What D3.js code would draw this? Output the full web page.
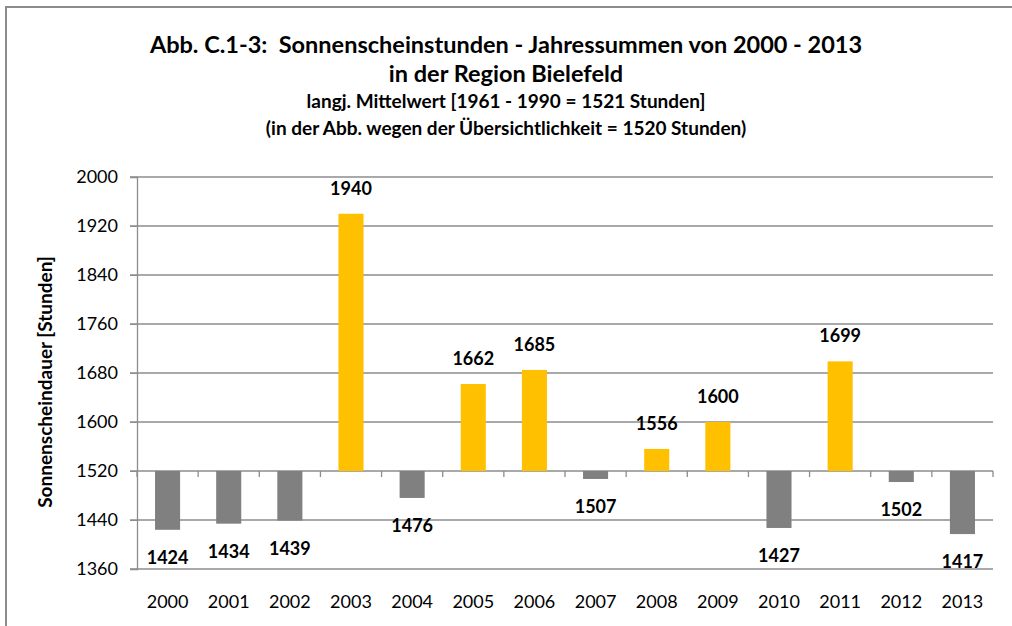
<!DOCTYPE html>
<html>
<head>
<meta charset="utf-8">
<script src="https://cdn.jsdelivr.net/npm/d3@7"></script>
<style>
  body { margin: 0; background: #fff; }
  svg { display: block; font-family: Lato, "Open Sans", sans-serif; }
  text { white-space: pre; }
</style>
</head>
<body>
<svg id="chart" width="1012" height="626"></svg>
<script>
const years = ["2000","2001","2002","2003","2004","2005","2006","2007","2008","2009","2010","2011","2012","2013"];
const hours = [1424, 1434, 1439, 1940, 1476, 1662, 1685, 1507, 1556, 1600, 1427, 1699, 1502, 1417];
const yTicks = [1360, 1440, 1520, 1600, 1680, 1760, 1840, 1920, 2000];
const baseline = 1520;

const titleLines = [
  "Abb. C.1-3:  Sonnenscheinstunden - Jahressummen von 2000 - 2013",
  "in der Region Bielefeld"
];
const subLines = [
  "langj. Mittelwert [1961 - 1990 = 1521 Stunden]",
  "(in der Abb. wegen der Übersichtlichkeit = 1520 Stunden)"
];

const data = years.map((y, i) => ({ year: y, value: hours[i] }));

const svg = d3.select("#chart");
const margin = { top: 177, left: 137, right: 19, bottom: 57 };
const width = +svg.attr("width");
const height = +svg.attr("height");
const innerWidth = width - margin.left - margin.right;
const innerHeight = height - margin.top - margin.bottom;

// outer frame (only top and left edges are visible in the picture)
svg.append("path")
  .attr("d", `M6,${height} V7 H${width}`)
  .attr("fill", "none")
  .attr("stroke", "#8c8c8c")
  .attr("stroke-width", 2);

const x = d3.scaleBand()
  .domain(years)
  .range([0, innerWidth])
  .paddingInner(0.59)
  .paddingOuter(0.295);

const y = d3.scaleLinear()
  .domain([1360, 2000])
  .range([innerHeight, 0]);

const chart = svg.append("g")
  .attr("transform", `translate(${margin.left},${margin.top})`);

// gridlines
chart.append("g")
  .selectAll("line")
  .data(yTicks)
  .enter()
  .append("line")
  .attr("x1", -7)
  .attr("x2", innerWidth)
  .attr("y1", d => y(d))
  .attr("y2", d => y(d))
  .attr("stroke", "#8c8c8c")
  .attr("stroke-width", 1.3);

// y axis
const yAxis = chart.append("g")
  .call(d3.axisLeft(y).tickValues(yTicks).tickSize(7).tickFormat(d3.format("d")));
yAxis.select(".domain").attr("stroke", "#8c8c8c").attr("stroke-width", 1.3);
yAxis.selectAll(".tick line").attr("stroke", "#8c8c8c");
yAxis.selectAll(".tick text")
  .attr("x", -19)
  .attr("font-size", "18px")
  .attr("fill", "#000")
  .attr("font-family", "Lato, sans-serif");

// bars
chart.selectAll(".bar")
  .data(data)
  .enter()
  .append("rect")
  .attr("class", "bar")
  .attr("x", d => x(d.year))
  .attr("width", x.bandwidth())
  .attr("y", d => y(Math.max(d.value, baseline)))
  .attr("height", d => Math.abs(y(d.value) - y(baseline)))
  .attr("fill", d => d.value >= baseline ? "#FFC000" : "#808080");

// category axis at the baseline
const step = x.step();
chart.append("g")
  .attr("transform", `translate(0,${y(baseline)})`)
  .selectAll("line")
  .data(d3.range(years.length + 1))
  .enter()
  .append("line")
  .attr("x1", i => i * step)
  .attr("x2", i => i * step)
  .attr("y1", 0)
  .attr("y2", 6)
  .attr("stroke", "#8c8c8c")
  .attr("stroke-width", 1.3);

// year labels
chart.append("g")
  .selectAll("text")
  .data(years)
  .enter()
  .append("text")
  .attr("x", d => x(d) + x.bandwidth() / 2)
  .attr("y", innerHeight + 39)
  .attr("text-anchor", "middle")
  .attr("font-size", "18px")
  .text(d => d);

// value labels
chart.append("g")
  .selectAll("text")
  .data(data)
  .enter()
  .append("text")
  .attr("x", d => x(d.year) + x.bandwidth() / 2)
  .attr("y", d => d.value >= baseline ? y(d.value) - 19 : y(d.value) + 34)
  .attr("text-anchor", "middle")
  .attr("font-size", "18px")
  .attr("font-weight", "bold")
  .text(d => d.value);

// titles
svg.append("g")
  .selectAll("text")
  .data(titleLines)
  .enter()
  .append("text")
  .attr("x", 506)
  .attr("y", (d, i) => 53 + i * 29)
  .attr("text-anchor", "middle")
  .attr("font-size", "23.5px")
  .attr("font-weight", "bold")
  .text(d => d);

svg.append("g")
  .selectAll("text")
  .data(subLines)
  .enter()
  .append("text")
  .attr("x", 506)
  .attr("y", (d, i) => 108 + i * 27)
  .attr("text-anchor", "middle")
  .attr("font-size", "19px")
  .attr("font-weight", "bold")
  .text(d => d);

// y axis title
svg.append("text")
  .attr("transform", `translate(52,${margin.top + innerHeight / 2 + 9}) rotate(-90)`)
  .attr("text-anchor", "middle")
  .attr("font-size", "19px")
  .attr("font-weight", "bold")
  .text("Sonnenscheindauer [Stunden]");
</script>
</body>
</html>
